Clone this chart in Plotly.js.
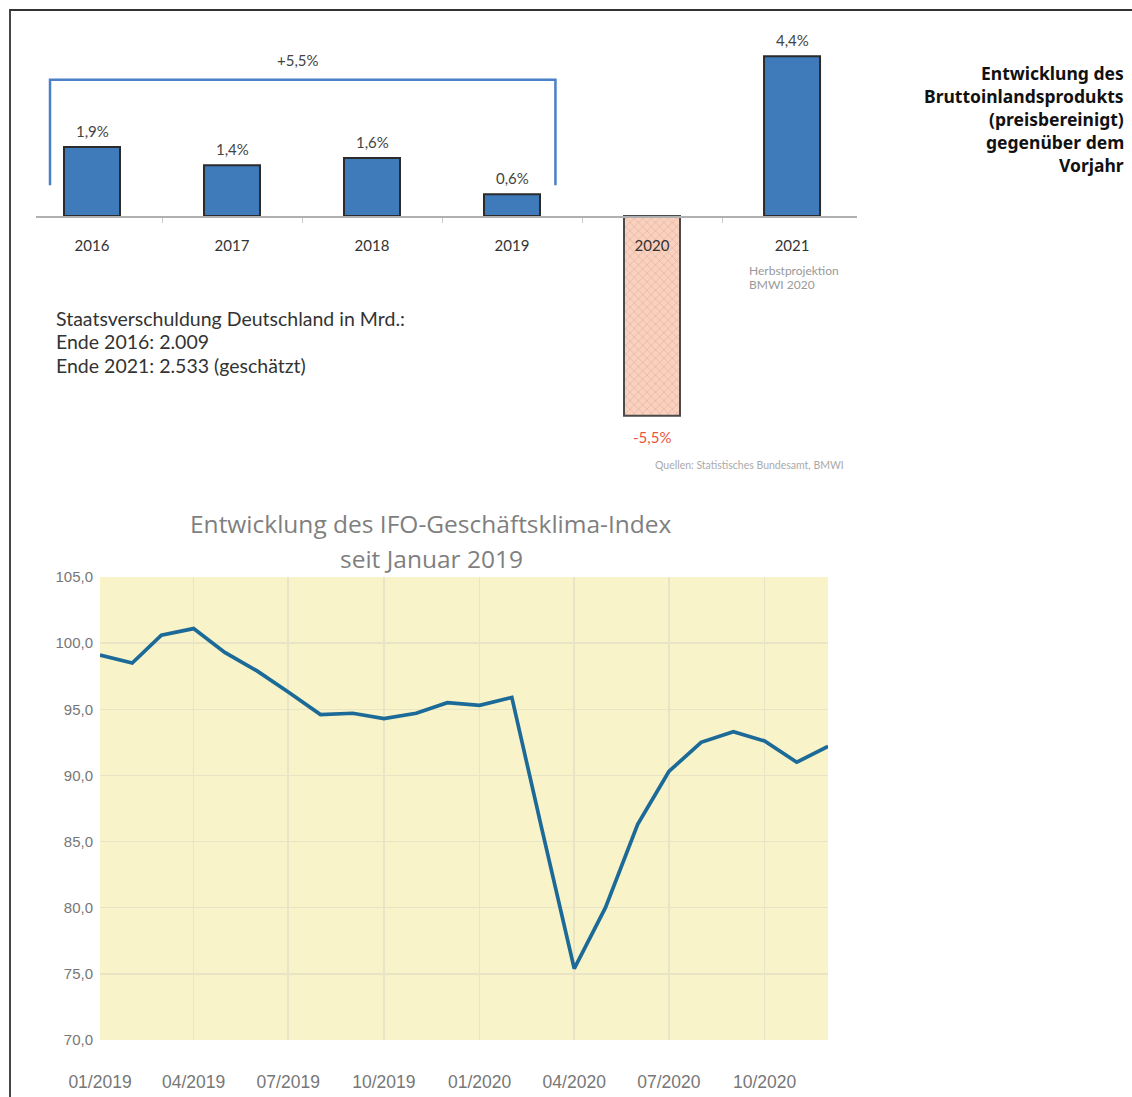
<!DOCTYPE html>
<html>
<head>
<meta charset="utf-8">
<script src="https://cdn.plot.ly/plotly-3.0.1.min.js"></script>
<style>html,body{margin:0;padding:0;background:#fff;}#chart{width:1132px;height:1097px;}</style>
</head>
<body>
<div id="chart"></div>
<script>
// ---- Data: BIP growth (preisbereinigt) ----
const years = ['2016', '2017', '2018', '2019', '2020', '2021'];
const gdpGrowth = [1.9, 1.4, 1.6, 0.6, -5.5, 4.4];
const cumulativeLabel = '+5,5%';
const debtLines = ['Staatsverschuldung Deutschland in Mrd.:', 'Ende 2016: 2.009', 'Ende 2021: 2.533 (geschätzt)'];
const titleLines = ['Entwicklung des', 'Bruttoinlandsprodukts', '(preisbereinigt)', 'gegenüber dem', 'Vorjahr'];

// ---- Data: IFO-Geschäftsklima-Index ----
const ifoMonths = ['2019-01-01','2019-02-01','2019-03-01','2019-04-01','2019-05-01','2019-06-01',
  '2019-07-01','2019-08-01','2019-09-01','2019-10-01','2019-11-01','2019-12-01',
  '2020-01-01','2020-02-01','2020-03-01','2020-04-01','2020-05-01','2020-06-01',
  '2020-07-01','2020-08-01','2020-09-01','2020-10-01','2020-11-01','2020-12-01'];
const ifoValues = [99.1, 98.5, 100.6, 101.1, 99.3, 97.9,
  96.3, 94.6, 94.7, 94.3, 94.7, 95.5,
  95.3, 95.9, 85.9, 75.4, 80.0, 86.3,
  90.3, 92.5, 93.3, 92.6, 91.0, 92.2];

const W = 1132, H = 1097;
const px = x => x / W;
const py = y => 1 - y / H;

const fmtPct = v => (v < 0 ? '-' : '') + Math.abs(v).toFixed(1).replace('.', ',') + '%';

const barColors = gdpGrowth.map(v => v < 0 ? '#fbd0bd' : '#3f7bbb');
const barLines = gdpGrowth.map(v => v < 0 ? '#4a4a4a' : '#2b2b2b');
const barPattern = gdpGrowth.map(v => v < 0 ? 'x' : '');

const barTrace = {
  type: 'bar', x: years, y: gdpGrowth, xaxis: 'x', yaxis: 'y', width: 0.4,
  marker: {color: barColors, line: {color: barLines, width: 2},
    pattern: {shape: barPattern, fgcolor: '#ee9c7e', fgopacity: 0.35, size: 6, solidity: 0.12, fillmode: 'overlay'}},
  hoverinfo: 'none', showlegend: false
};

const lineTrace = {
  type: 'scatter', mode: 'lines', x: ifoMonths, y: ifoValues, xaxis: 'x2', yaxis: 'y2',
  line: {color: '#1c6a98', width: 3.7}, hoverinfo: 'none', showlegend: false
};

const annotations = [];
gdpGrowth.forEach((v, i) => {
  annotations.push({
    xref: 'x', yref: 'y', x: i, y: v, text: fmtPct(v), showarrow: false,
    yanchor: v < 0 ? 'top' : 'bottom', yshift: v < 0 ? -10 : 5,
    font: {family: 'Lato, sans-serif', size: 15, color: v < 0 ? '#e8563c' : '#444'}
  });
});
annotations.push({xref: 'x', yref: 'y', x: 1.47, y: 4.3, text: cumulativeLabel, showarrow: false,
  font: {family: 'Lato, sans-serif', size: 15, color: '#444'}});
debtLines.forEach((t, i) => {
  annotations.push({xref: 'paper', yref: 'paper', x: px(54), y: py([318, 341, 365][i]), text: t,
    showarrow: false, xanchor: 'left', yanchor: 'middle',
    font: {family: 'Lato, sans-serif', size: 19.5, color: '#333'}});
});
annotations.push({xref: 'paper', yref: 'paper', x: px(747), y: py(270), text: 'Herbstprojektion',
  showarrow: false, xanchor: 'left', yanchor: 'middle', font: {family: 'Lato, sans-serif', size: 12, color: '#999'}});
annotations.push({xref: 'paper', yref: 'paper', x: px(747), y: py(284), text: 'BMWI 2020',
  showarrow: false, xanchor: 'left', yanchor: 'middle', font: {family: 'Lato, sans-serif', size: 12, color: '#999'}});
annotations.push({xref: 'paper', yref: 'paper', x: px(846), y: py(465), text: 'Quellen: Statistisches Bundesamt, BMWI',
  showarrow: false, xanchor: 'right', yanchor: 'middle', font: {family: 'Lato, sans-serif', size: 10.5, color: '#aaa'}});
titleLines.forEach((t, i) => {
  annotations.push({xref: 'paper', yref: 'paper', x: px(1126), y: py([73, 96, 119, 142, 165][i]), text: t,
    showarrow: false, xanchor: 'right', yanchor: 'middle',
    font: {family: '"Noto Sans", sans-serif', size: 17.5, color: '#111', weight: 'bold'}});
});
annotations.push({xref: 'paper', yref: 'paper', x: px(431), y: py(524), text: 'Entwicklung des IFO-Geschäftsklima-Index',
  showarrow: false, xanchor: 'center', yanchor: 'middle', font: {family: '"Open Sans", sans-serif', size: 24.5, color: '#7f7f7f'}});
annotations.push({xref: 'paper', yref: 'paper', x: px(431), y: py(558), text: 'seit Januar 2019',
  showarrow: false, xanchor: 'center', yanchor: 'middle', font: {family: '"Open Sans", sans-serif', size: 24.5, color: '#7f7f7f'}});

const shapes = [
  // frame
  {type: 'path', xref: 'paper', yref: 'paper', path: `M ${px(10)},0 L ${px(10)},${py(10)} L 1,${py(10)}`,
    line: {color: '#333', width: 1.8}},
  // bracket over 2016-2019
  {type: 'path', xref: 'x', yref: 'y', path: 'M -0.3,0.85 L -0.3,3.75 L 3.31,3.75 L 3.31,0.85',
    line: {color: '#4a80c8', width: 2.5}},
  // yellow plot background for IFO chart
  {type: 'rect', xref: 'x2 domain', yref: 'y2 domain', x0: 0, x1: 1, y0: 0, y1: 1,
    fillcolor: '#f8f3c9', line: {width: 0}, layer: 'below'}
];

const layout = {
  width: W, height: H, margin: {l: 0, r: 0, t: 0, b: 0},
  paper_bgcolor: '#fff', plot_bgcolor: 'rgba(0,0,0,0)', separators: ',.',
  showlegend: false,
  xaxis: {domain: [px(36), px(857)], range: [-0.4, 5.464], type: 'category',
    anchor: 'free', position: py(216), showline: true, linecolor: '#b0b0b0', linewidth: 1.5,
    ticks: 'outside', tickson: 'boundaries', ticklen: 5, tickcolor: '#c8c8c8', showgrid: false,
    ticklabelstandoff: 15, tickfont: {family: 'Lato, sans-serif', size: 15, color: '#333'}},
  yaxis: {domain: [py(433.8), py(27.24)], range: [-6, 5.2], visible: false, showgrid: false, zeroline: false},
  xaxis2: {domain: [px(100), px(828)], range: ['2019-01-01', '2020-12-01'], type: 'date', anchor: 'y2',
    dtick: 'M3', tick0: '2019-01-01', tickformat: '%m/%Y', ticks: '', showline: false,
    showgrid: true, gridcolor: '#eae4c7', gridwidth: 1.5, ticklabelstandoff: 29,
    tickfont: {family: '"Liberation Sans", Arial, sans-serif', size: 17.5, color: '#777'}},
  yaxis2: {domain: [py(1040), py(577)], range: [70, 105], dtick: 5, tick0: 70, anchor: 'x2',
    tickformat: '.1f', showgrid: true, gridcolor: '#eae4c7', gridwidth: 1.5, zeroline: false, showline: false,
    ticks: '', ticklabelstandoff: 6,
    tickfont: {family: '"Liberation Sans", Arial, sans-serif', size: 15, color: '#777'}},
  annotations: annotations, shapes: shapes
};

Plotly.newPlot('chart', [barTrace, lineTrace], layout, {displayModeBar: false, staticPlot: true});
</script>
</body>
</html>
